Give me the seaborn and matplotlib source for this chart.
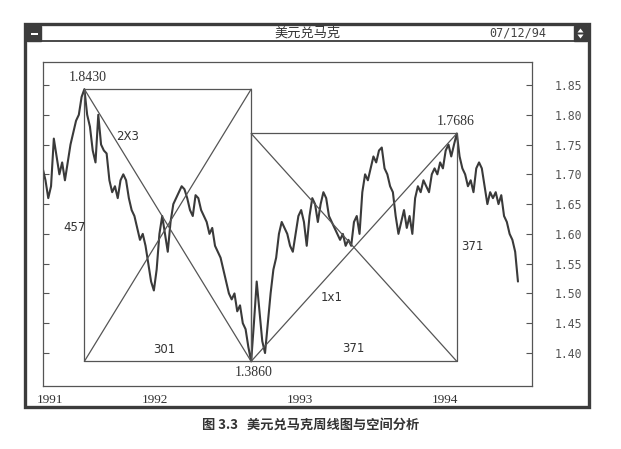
import numpy as np
import pandas as pd
import matplotlib
matplotlib.use("Agg")
import matplotlib.pyplot as plt
from matplotlib.patches import Rectangle, Polygon
from matplotlib.lines import Line2D
import seaborn as sns

# ---- data (weekly USD/DEM) ----
close = [1.71, 1.69, 1.66, 1.68, 1.76, 1.73, 1.70, 1.72, 1.69, 1.72,
         1.75, 1.77, 1.79, 1.80, 1.83, 1.843, 1.80, 1.78, 1.74, 1.72,
         1.80, 1.75, 1.74, 1.735, 1.69, 1.67, 1.68, 1.66, 1.69, 1.70,
         1.69, 1.66, 1.64, 1.63, 1.61, 1.59, 1.60, 1.58, 1.55, 1.52,
         1.505, 1.54, 1.60, 1.63, 1.60, 1.57, 1.62, 1.65, 1.66, 1.67,
         1.68, 1.675, 1.66, 1.64, 1.63, 1.665, 1.66, 1.64, 1.63, 1.62,
         1.60, 1.61, 1.58, 1.57, 1.56, 1.54, 1.52, 1.50, 1.49, 1.50,
         1.47, 1.48, 1.45, 1.44, 1.41, 1.386, 1.45, 1.52, 1.47, 1.42,
         1.40, 1.45, 1.50, 1.54, 1.56, 1.60, 1.62, 1.61, 1.60, 1.58,
         1.57, 1.60, 1.63, 1.64, 1.62, 1.58, 1.63, 1.66, 1.65, 1.62,
         1.65, 1.67, 1.66, 1.63, 1.62, 1.61, 1.60, 1.59, 1.60, 1.58,
         1.59, 1.58, 1.62, 1.63, 1.60, 1.67, 1.70, 1.69, 1.71, 1.73,
         1.72, 1.74, 1.745, 1.71, 1.70, 1.68, 1.67, 1.63, 1.60, 1.62,
         1.64, 1.61, 1.63, 1.60, 1.66, 1.68, 1.67, 1.69, 1.68, 1.67,
         1.70, 1.71, 1.70, 1.72, 1.71, 1.74, 1.75, 1.73, 1.75, 1.7686,
         1.73, 1.71, 1.70, 1.68, 1.69, 1.67, 1.71, 1.72, 1.71, 1.68,
         1.65, 1.67, 1.66, 1.67, 1.65, 1.665, 1.63, 1.62, 1.60, 1.59,
         1.57, 1.52]
start_year = 1991.226
year_ticks = [1992, 1993, 1994]
year_labels = ["1992", "1993", "1994"]
first_year_label = "1991"
price_ticks = [1.40, 1.45, 1.50, 1.55, 1.60, 1.65, 1.70, 1.75, 1.80, 1.85]
price_labels = ["1.40", "1.45", "1.50", "1.55", "1.60", "1.65", "1.70", "1.75", "1.80", "1.85"]
pivot_labels = ["1.8430", "1.3860", "1.7686"]
span_labels = ["457", "301", "371", "371"]
angle_labels = ["2X3", "1x1"]
window_title = "美元兑马克"
window_date = "07/12/94"
caption = "图 3.3   美元兑马克周线图与空间分析"

weeks = np.arange(len(close))
t = start_year + weeks / 52.18
df = pd.DataFrame({"t": t, "price": close})

sns.set_style("white")
plt.rcParams["font.family"] = ["DejaVu Sans"]

W, H = 621, 449
fig = plt.figure(figsize=(W / 100, H / 100), dpi=100)
fig.patch.set_facecolor("white")

def fx(px):
    return px / W

def fy(py):
    return 1 - py / H

# axes
ax = fig.add_axes([fx(42.7), fy(386), fx(532) - fx(42.7), fy(62) - fy(386)])
sns.lineplot(data=df, x="t", y="price", ax=ax, color="#3a3a3a", lw=1.5)
ax.set_xlim(1991.226, 1994.60)
ax.set_ylim(1.3446, 1.8886)
ax.set_xlabel("")
ax.set_ylabel("")
for s in ax.spines.values():
    s.set_color("#555555")
    s.set_linewidth(0.9)

ax.yaxis.tick_right()
ax.set_yticks(price_ticks)
ax.set_yticklabels(price_labels, family="DejaVu Sans Mono", fontsize=8.3, color="#555555")
ax.tick_params(axis="y", which="both", right=True, left=True, direction="in",
               length=4, width=0.8, color="#555555", pad=16)
ax.set_xticks(year_ticks)
ax.set_xticklabels(year_labels, family="Liberation Serif", fontsize=9.5, color="#333333")
ax.set_xticks([1991.276], minor=True)
ax.set_xticklabels([first_year_label], minor=True, family="Liberation Serif",
                   fontsize=9.5, color="#333333")
ax.tick_params(axis="x", which="major", direction="in", length=3, width=0.8,
               color="#555555", pad=6)
ax.tick_params(axis="x", which="minor", direction="in", length=0, pad=6)

# Gann boxes derived from the pivots of the series
c = np.array(close)
i_hi1 = int(np.argmax(c[:60]))
i_lo = int(np.argmin(c))
i_hi2 = int(np.argmax(c[100:])) + 100
boxes = [(t[i_hi1], t[i_lo], c[i_lo], c[i_hi1]),
         (t[i_lo], t[i_hi2], c[i_lo], c[i_hi2])]
lc = "#555555"
for x0, x1, y0, y1 in boxes:
    ax.plot([x0, x1, x1, x0, x0], [y0, y0, y1, y1, y0], color=lc, lw=0.9)
    ax.plot([x0, x1], [y1, y0], color=lc, lw=0.9)
    ax.plot([x0, x1], [y0, y1], color=lc, lw=0.9)

serif = dict(family="Liberation Serif", fontsize=10, color="#333333", ha="center", va="center")
sans = dict(family="DejaVu Sans", fontsize=8.5, color="#333333", ha="center", va="center")
ax.text(1991.538, 1.8634, pivot_labels[0], **serif)
ax.text(1992.683, 1.3673, pivot_labels[1], **serif)
ax.text(1994.076, 1.7879, pivot_labels[2], **serif)
ax.text(1991.448, 1.6099, span_labels[0], **sans)
ax.text(1992.062, 1.4067, span_labels[1], **sans)
ax.text(1993.366, 1.4084, span_labels[2], **sans)
ax.text(1994.186, 1.5780, span_labels[3], **sans)
ax.text(1991.814, 1.7627, angle_labels[0], **sans)
ax.text(1993.221, 1.4932, angle_labels[1], **sans)

# window frame
dark = "#3c3c3c"
fig.patches.append(Rectangle((fx(25), fy(407)), fx(589) - fx(25), fy(24) - fy(407),
                             fill=False, lw=2.4, ec=dark, transform=fig.transFigure))
fig.lines.append(Line2D([fx(25), fx(589)], [fy(41), fy(41)], lw=1.3, color=dark,
                        transform=fig.transFigure))
fig.patches.append(Rectangle((fx(27), fy(41)), fx(41) - fx(27), fy(26) - fy(41),
                             fc=dark, ec=dark, transform=fig.transFigure))
fig.patches.append(Rectangle((fx(30.5), fy(34.5)), fx(37.5) - fx(30.5), fy(32.5) - fy(34.5),
                             fc="white", ec="none", transform=fig.transFigure))
fig.patches.append(Rectangle((fx(574), fy(41)), fx(587) - fx(574), fy(26) - fy(41),
                             fc=dark, ec=dark, transform=fig.transFigure))
fig.patches.append(Polygon([(fx(577.5), fy(32.5)), (fx(583.5), fy(32.5)), (fx(580.5), fy(28.5))],
                           closed=True, fc="white", ec="none", transform=fig.transFigure))
fig.patches.append(Polygon([(fx(577.5), fy(34.5)), (fx(583.5), fy(34.5)), (fx(580.5), fy(38.5))],
                           closed=True, fc="white", ec="none", transform=fig.transFigure))

fig.text(fx(308), fy(33), window_title, ha="center", va="center",
         family=["Noto Sans CJK SC", "DejaVu Sans"], fontsize=9.5, color="#333333")
fig.text(fx(518), fy(33.5), window_date, ha="center", va="center",
         family="DejaVu Sans Mono", fontsize=8.5, color="#444444")
fig.text(fx(311), fy(425), caption, ha="center", va="center",
         family=["Noto Sans CJK SC", "DejaVu Sans"], fontsize=9.5, fontweight="bold",
         color="#333333")

fig.savefig("out.png", dpi=100, facecolor="white")
